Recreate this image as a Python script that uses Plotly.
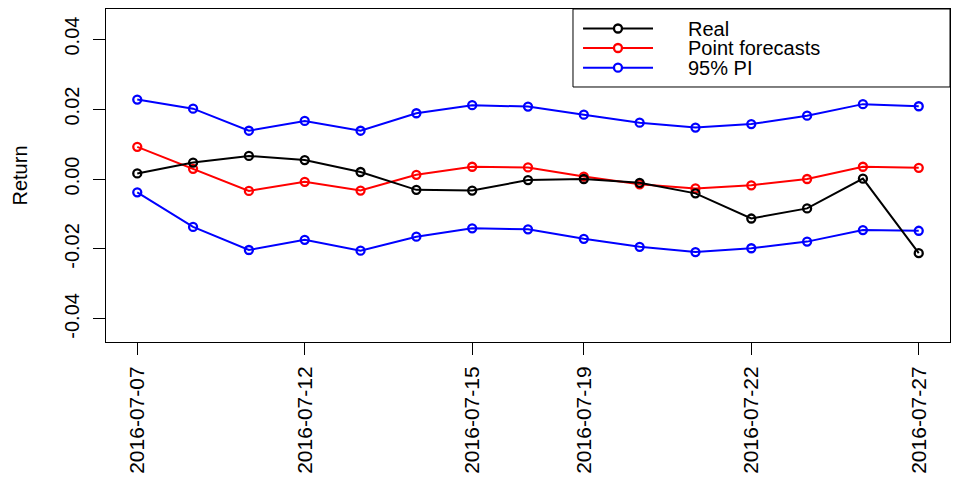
import plotly.graph_objects as go

# Trading days covered by the forecast window
dates = ["2016-07-07", "2016-07-08", "2016-07-11", "2016-07-12", "2016-07-13",
         "2016-07-14", "2016-07-15", "2016-07-18", "2016-07-19", "2016-07-20",
         "2016-07-21", "2016-07-22", "2016-07-25", "2016-07-26", "2016-07-27"]

real = [0.0016, 0.0047, 0.0066, 0.0054, 0.0020, -0.0031, -0.0033, -0.0003,
        0.0000, -0.0011, -0.0041, -0.0113, -0.0084, 0.0001, -0.0212]
point_fc = [0.0092, 0.0029, -0.0034, -0.0008, -0.0033, 0.0012, 0.0035, 0.0033,
            0.0007, -0.0015, -0.0027, -0.0018, 0.0000, 0.0035, 0.0032]
pi_upper = [0.0227, 0.0201, 0.0138, 0.0166, 0.0138, 0.0188, 0.0211, 0.0207,
            0.0184, 0.0161, 0.0147, 0.0157, 0.0181, 0.0214, 0.0208]
pi_lower = [-0.0038, -0.0137, -0.0203, -0.0174, -0.0205, -0.0165, -0.0141, -0.0144,
            -0.0171, -0.0194, -0.0209, -0.0198, -0.0179, -0.0146, -0.0148]

x_tick_labels = ["2016-07-07", "2016-07-12", "2016-07-15", "2016-07-19",
                 "2016-07-22", "2016-07-27"]
y_tick_vals = [-0.04, -0.02, 0.00, 0.02, 0.04]
y_tick_text = ["-0.04", "-0.02", "0.00", "0.02", "0.04"]

legend_names = ["Real", "Point forecasts", "95% PI"]
legend_colors = ["#000000", "#FF0000", "#0000FF"]

FONT = "Liberation Sans, Arial, sans-serif"

fig = go.Figure()


def add_series(y, color):
    fig.add_trace(go.Scatter(
        x=dates, y=y, mode="lines+markers",
        line=dict(color=color, width=2),
        marker=dict(symbol="circle-open", size=8, color=color,
                    line=dict(color=color, width=2.3)),
        showlegend=False, hoverinfo="x+y",
    ))


add_series(pi_upper, "#0000FF")
add_series(pi_lower, "#0000FF")
add_series(point_fc, "#FF0000")
add_series(real, "#000000")

# Boxed legend in the top-right corner
shapes = [dict(type="rect", xref="paper", yref="paper",
               x0=0.5533, x1=1.0, y0=0.7658, y1=1.0,
               line=dict(color="#000000", width=1), fillcolor="rgba(0,0,0,0)")]
annotations = []
row_y = [0.9414, 0.8829, 0.8237]
for name, color, yy in zip(legend_names, legend_colors, row_y):
    shapes.append(dict(type="line", xref="paper", yref="paper",
                       x0=0.5652, x1=0.6481, y0=yy, y1=yy,
                       line=dict(color=color, width=2)))
    shapes.append(dict(type="circle", xref="paper", yref="paper",
                       xsizemode="pixel", ysizemode="pixel",
                       xanchor=0.6066, yanchor=yy,
                       x0=-4, x1=4, y0=-4, y1=4,
                       line=dict(color=color, width=2.3), fillcolor="white"))
    annotations.append(dict(xref="paper", yref="paper", x=0.6872, y=yy,
                            xanchor="left", yanchor="middle", text=name,
                            showarrow=False,
                            font=dict(family=FONT, size=20, color="#000000")))

fig.update_layout(
    width=953, height=481,
    margin=dict(l=106, r=3, t=9, b=139),
    paper_bgcolor="white", plot_bgcolor="white",
    font=dict(family=FONT, size=20, color="#000000"),
    shapes=shapes, annotations=annotations,
    showlegend=False,
)

fig.update_xaxes(
    type="category", range=[-0.56, 14.56],
    tickmode="array", tickvals=x_tick_labels, ticktext=x_tick_labels,
    tickangle=-90, ticks="outside", ticklen=12, tickcolor="#000000",
    ticklabelstandoff=3,
    showline=True, linecolor="#000000", linewidth=1, mirror=True,
    showgrid=False, zeroline=False,
    tickfont=dict(family=FONT, size=21, color="#000000"),
)
fig.update_yaxes(
    range=[-0.0466, 0.0486],
    tickmode="array", tickvals=y_tick_vals, ticktext=y_tick_text,
    tickangle=-90, ticks="outside", ticklen=12, tickcolor="#000000",
    ticklabelstandoff=6,
    showline=True, linecolor="#000000", linewidth=1, mirror=True,
    showgrid=False, zeroline=False,
    tickfont=dict(family=FONT, size=20, color="#000000"),
    title=dict(text="Return", standoff=28,
               font=dict(family=FONT, size=20, color="#000000")),
)

fig.write_html("out.html")
